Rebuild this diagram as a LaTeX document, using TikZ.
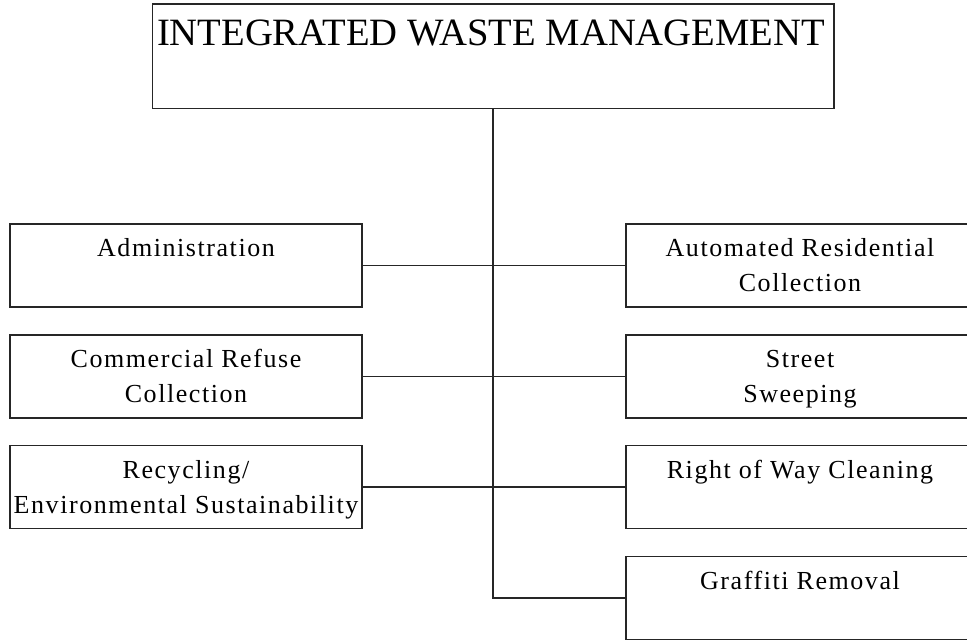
\documentclass[tikz,border=0pt]{standalone}
\usepackage{fontspec}
\setmainfont{Liberation Serif}
\newfontfamily\boxfont[LetterSpace=6]{Liberation Serif}
\begin{document}
\begin{tikzpicture}[x=0.75pt,y=-0.75pt,
  box/.style={draw=black!85,line width=1.15pt,rectangle,inner sep=0pt},
  lbox/.style={box,minimum width=264pt,minimum height=62.25pt},
  rbox/.style={box,minimum width=261pt,minimum height=62.25pt},
  lbl/.style={anchor=base,align=center,inner sep=0pt,font=\boxfont\fontsize{19.5pt}{26.25pt}\selectfont},
  conn/.style={draw=black!85,line width=1.15pt}]
\useasboundingbox (0,0) rectangle (967,640);
\clip (0,0) rectangle (967,640);
% top
\node[box,minimum width=511.1pt,minimum height=78.4pt] (top) at (493.25,56.25) {};
\node[anchor=base,inner sep=0pt,font=\fontsize{29pt}{32pt}\selectfont] (toptxt) at (491,45) {INTEGRATED WASTE MANAGEMENT};
% left boxes
\node[lbox] (adm) at (186,265.5) {};
\node[lbox] (com) at (186,376.5) {};
\node[lbox] (rec) at (186,487) {};
% right boxes
\node[rbox] (aut) at (800,265.5) {};
\node[rbox] (str) at (800,376.5) {};
\node[rbox] (row) at (800,487) {};
\node[rbox] (gra) at (800,598) {};
% labels (base anchor = baseline of last line)
\node[lbl] (admt) at (186,256) {Administration};
\node[lbl] (comt) at (186,402) {Commercial Refuse\\Collection};
\node[lbl] (rect) at (186,513) {Recycling/\\Environmental Sustainability};
\node[lbl] (autt) at (800,291) {Automated Residential\\Collection};
\node[lbl] (strt) at (800,402) {Street\\Sweeping};
\node[lbl] (rowt) at (800,478) {Right of Way Cleaning};
\node[lbl] (grat) at (800,589) {Graffiti Removal};
% connectors
\coordinate (bend) at (493.25,598);
\draw[conn] (top.south) -- (bend) -- (gra.west);
\draw[conn] (adm.east) -- (aut.west);
\draw[conn] (com.east) -- (str.west);
\draw[conn] (rec.east) -- (row.west);
\end{tikzpicture}
\end{document}
